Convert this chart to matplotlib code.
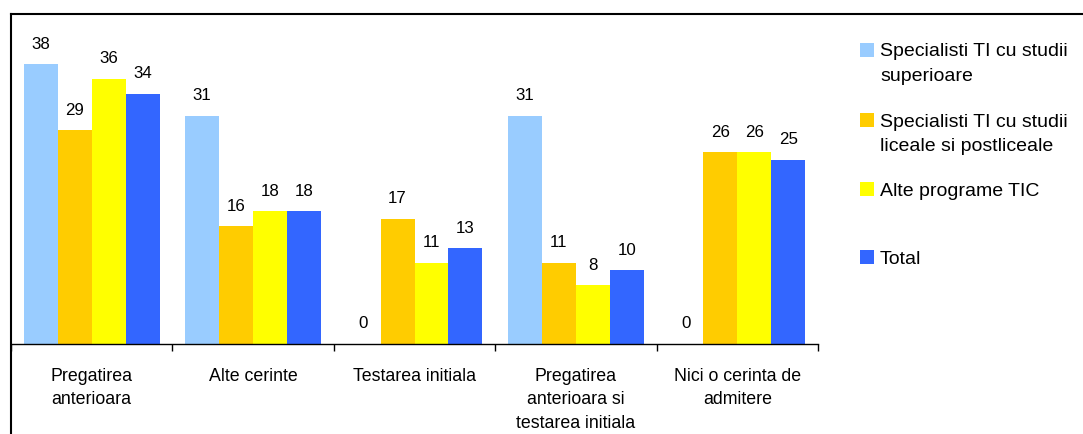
import numpy as np
import matplotlib
matplotlib.use('Agg')
import matplotlib.pyplot as plt
from matplotlib.lines import Line2D
from matplotlib.patches import Rectangle

plt.rcParams['font.family'] = ['Liberation Sans', 'DejaVu Sans']

categories = ['Pregatirea\nanterioara', 'Alte cerinte', 'Testarea initiala',
              'Pregatirea\nanterioara si\ntestarea initiala', 'Nici o cerinta de\nadmitere']
series_names = ['Specialisti TI cu studii\nsuperioare',
                'Specialisti TI cu studii\nliceale si postliceale',
                'Alte programe TIC',
                'Total']
superioare = [38, 31, 0, 31, 0]
liceale = [29, 16, 17, 11, 26]
alte_tic = [36, 18, 11, 8, 26]
total = [34, 18, 13, 10, 25]
colors = ['#99CCFF', '#FFCC00', '#FFFF00', '#3366FF']

W, H = 1083, 434
fig = plt.figure(figsize=(W / 100, H / 100), dpi=100)
ax = fig.add_axes([11 / W, 1 - 344 / H, (818 - 11) / W, (344 - 14) / H])

data = [superioare, liceale, alte_tic, total]
n = len(data)
bw = 1 / (n + 0.75)
x = np.arange(len(categories)) + 0.5
for k, (vals, c) in enumerate(zip(data, colors)):
    pos = x + (k - (n - 1) / 2) * bw
    ax.bar(pos, vals, width=bw, color=c, linewidth=0)
    for px_, v in zip(pos, vals):
        ax.annotate(str(v), (px_, v), xytext=(0, 9), textcoords='offset points',
                    ha='center', va='bottom', fontsize=12.2)

ax.set_xlim(0, len(categories))
ax.set_ylim(0, 44.8)
ax.set_yticks([])
for s in ['left', 'right', 'top']:
    ax.spines[s].set_visible(False)
ax.spines['bottom'].set_linewidth(1.0)
ax.set_xticks(np.arange(len(categories) + 1))
ax.set_xticklabels([])
ax.set_xticks(x, minor=True)
ax.set_xticklabels(categories, minor=True, fontsize=12.8, linespacing=1.5)
ax.tick_params(axis='x', which='major', direction='out', length=5, width=1)
ax.tick_params(axis='x', which='minor', length=0, pad=17)

# chart border
fig.add_artist(Line2D([11 / W, 1], [1 - 14 / H, 1 - 14 / H], color='black', lw=1.5))
fig.add_artist(Line2D([11 / W, 11 / W], [0, 1 - 14 / H], color='black', lw=1.5))

# legend
ys = [49.5, 120, 188.5, 256.5]
for name, c, y in zip(series_names, colors, ys):
    fig.add_artist(Rectangle((860 / W, 1 - (y + 7) / H), 14 / W, 14 / H,
                             transform=fig.transFigure, color=c, lw=0))
    fig.text(880 / W, 1 - (y - 6) / H, name, ha='left', va='top',
             fontsize=14, linespacing=1.55)

fig.savefig('out.png', dpi=100)
